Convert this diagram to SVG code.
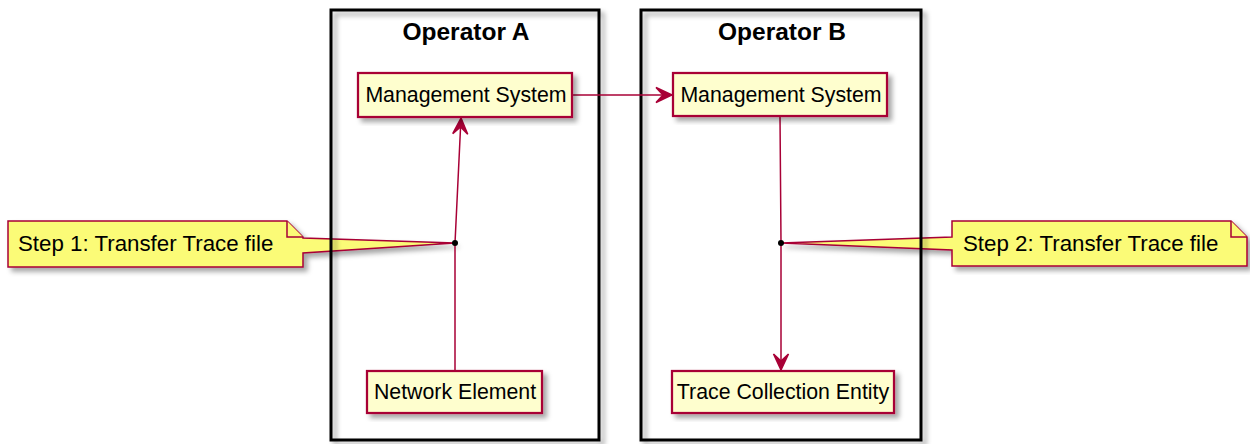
<svg xmlns="http://www.w3.org/2000/svg" width="1250" height="444" viewBox="0 0 1250 444">
<defs>
<filter id="sh" x="-10%" y="-10%" width="130%" height="130%">
<feDropShadow dx="4" dy="4" stdDeviation="2.5" flood-color="#000" flood-opacity="0.35"/>
</filter>
<marker id="ah" viewBox="-17 -9 18 18" refX="0" refY="0" markerWidth="18" markerHeight="18" markerUnits="userSpaceOnUse" orient="auto">
<path d="M0,0 L-16,-7.5 L-9,0 L-16,7.5 Z" fill="#A80036" stroke="#A80036" stroke-width="1.5" stroke-linejoin="miter"/>
</marker>
</defs>
<style>
.frame{fill:none;stroke:#000;stroke-width:3;filter:url(#sh)}
.title{font-family:"Liberation Sans",Arial,sans-serif;font-weight:bold;font-size:24.5px;fill:#000;text-anchor:middle}
.box{fill:#FEFECE;stroke:#A80036;stroke-width:2.25;filter:url(#sh)}
.lbl{font-family:"Liberation Sans",Arial,sans-serif;font-size:21.3px;fill:#000;text-anchor:middle}
.note{fill:#FBFB77;stroke:#A80036;stroke-width:1.5;filter:url(#sh)}
.fold{fill:#FBFB77;stroke:#A80036;stroke-width:1.5}
.ntxt{font-family:"Liberation Sans",Arial,sans-serif;font-size:22.3px;fill:#000}
.edge{fill:none;stroke:#A80036;stroke-width:1.5}
</style>
<g id="note1">
<path class="note" d="M8,221 L287,221 L303,237 L303,238 L455,243 L303,253 L303,267 L8,267 Z"/>
<path class="fold" d="M287,221 L287,237 L303,237"/>
<text class="ntxt" x="18" y="251">Step 1: Transfer Trace file</text>
</g>
<g id="note2">
<path class="note" d="M952,221 L1231,221 L1247,237 L1247,266 L952,266 L952,250 L781,243 L952,237 Z"/>
<path class="fold" d="M1231,221 L1231,237 L1247,237"/>
<text class="ntxt" x="963" y="251">Step 2: Transfer Trace file</text>
</g>
<g id="operatorA">
<rect class="frame" x="331" y="10" width="268" height="430"/>
<text class="title" x="466" y="40">Operator A</text>
</g>
<g id="operatorB">
<rect class="frame" x="641" y="10" width="280" height="430"/>
<text class="title" x="782" y="40">Operator B</text>
</g>
<g id="connectors">
<line class="edge" x1="573" y1="95" x2="672" y2="95" marker-end="url(#ah)"/>
<path class="edge" d="M455,371 L455,243 L461,118" marker-end="url(#ah)"/>
<path class="edge" d="M780,117 L781,243 L781,370" marker-end="url(#ah)"/>
<circle cx="455" cy="243" r="3" fill="#000"/>
<circle cx="781" cy="243" r="3" fill="#000"/>
</g>
<g id="msA">
<rect class="box" x="358" y="73" width="214" height="44"/>
<text class="lbl" x="466" y="102">Management System</text>
</g>
<g id="msB">
<rect class="box" x="673" y="73" width="214" height="43"/>
<text class="lbl" x="781" y="102">Management System</text>
</g>
<g id="ne">
<rect class="box" x="367" y="371" width="175" height="42"/>
<text class="lbl" x="455" y="399">Network Element</text>
</g>
<g id="tce">
<rect class="box" x="672" y="371" width="222" height="42"/>
<text class="lbl" x="783" y="399">Trace Collection Entity</text>
</g>
</svg>
